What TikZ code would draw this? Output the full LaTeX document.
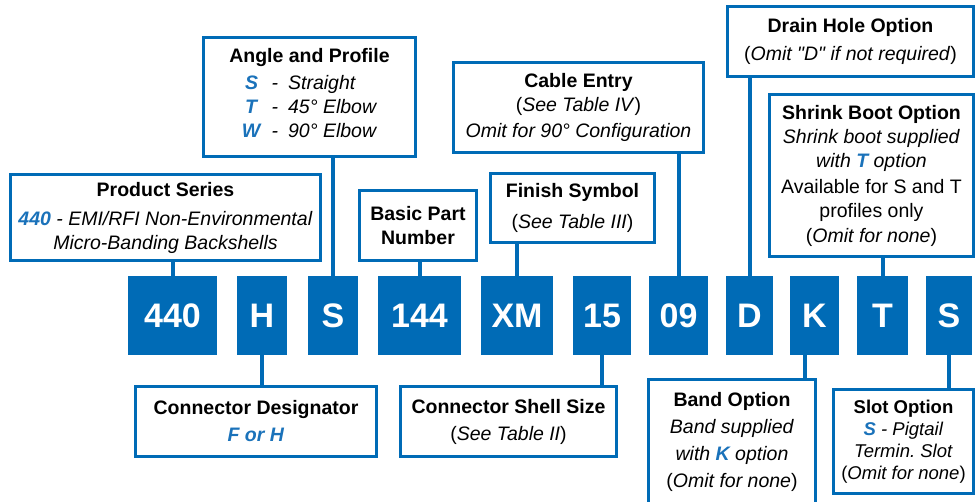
\documentclass[tikz,border=0pt]{standalone}
\usepackage{fontspec}
\setmainfont{Liberation Sans}[Ligatures=TeXOff]
\usetikzlibrary{positioning}
\definecolor{pnBlue}{HTML}{006BB6}
\definecolor{pnText}{HTML}{1A72BA}
\newcommand{\hl}[1]{\textcolor{pnText}{\textbf{\textit{#1}}}}
\newcommand{\ttl}[1]{\textbf{#1}}
\begin{document}
\begin{tikzpicture}[
  x=1pt, y=-1pt,
  font=\fontsize{19.5}{24}\selectfont,
  code/.style={fill=pnBlue, text=white, inner sep=0pt, minimum height=79pt,
    font=\fontsize{34}{34}\selectfont\bfseries},
  desc/.style={draw=pnBlue, fill=white, line width=3pt, align=center, inner sep=0pt},
  link/.style={draw=pnBlue, line width=4pt},
]
\useasboundingbox (0,0) rectangle (980,501);
% part number boxes
\node[code, minimum width=89pt] (c440) at (172.5,315.5) {440};
\node[code, minimum width=50pt] (cH) at (262,315.5) {H};
\node[code, minimum width=50pt] (cS) at (333,315.5) {S};
\node[code, minimum width=83pt] (c144) at (419.5,315.5) {144};
\node[code, minimum width=72pt] (cXM) at (517,315.5) {XM};
\node[code, minimum width=58pt] (c15) at (602,315.5) {15};
\node[code, minimum width=59pt] (c09) at (678.5,315.5) {09};
\node[code, minimum width=47pt] (cD) at (749.5,315.5) {D};
\node[code, minimum width=49pt] (cK) at (814.5,315.5) {K};
\node[code, minimum width=51pt] (cT) at (882.5,315.5) {T};
\node[code, minimum width=46pt] (cS2) at (949,315.5) {S};
% upper descriptions
\node[desc, minimum width=310pt, minimum height=86pt] (ps) at (165.5,217.5)
  {\ttl{Product Series}\\[5pt]\hl{440}\textit{ - EMI/RFI Non-Environmental}\\\textit{Micro-Banding Backshells}};
\node[desc, minimum width=212pt, minimum height=119pt] (ap) at (309.5,97)
  {\ttl{Angle and Profile}\\[3pt]
   \begin{tabular}[t]{@{}c@{\hspace{10pt}}c@{\hspace{10pt}}l@{}}
   \hl{S} & \textit{-} & \textit{Straight}\\
   \hl{T} & \textit{-} & \textit{45° Elbow}\\
   \hl{W} & \textit{-} & \textit{90° Elbow}
   \end{tabular}};
\node[desc, minimum width=117pt, minimum height=70pt] (bpn) at (418,225.5)
  {\ttl{Basic Part}\\\ttl{Number}};
\node[desc, minimum width=164pt, minimum height=69pt] (fs) at (572.5,208)
  {\ttl{Finish Symbol}\\[7pt](\textit{See Table III})};
\node[desc, minimum width=250pt, minimum height=90pt] (ce) at (578.5,107.5)
  {\ttl{Cable Entry}\\(\textit{See Table IV})\\[2pt]\textit{Omit for 90° Configuration}};
\node[desc, minimum width=246pt, minimum height=70pt] (dh) at (850.5,41.5)
  {\ttl{Drain Hole Option}\\[4pt](\textit{Omit "D" if not required})};
\node[desc, minimum width=204pt, minimum height=162pt] (sb) at (871.5,175.5)
  {\ttl{Shrink Boot Option}\\\textit{Shrink boot supplied}\\\textit{with \hl{T} option}\\[2pt]
   Available for S and T\\profiles only\\[1pt](\textit{Omit for none})};
% lower descriptions
\node[desc, minimum width=241pt, minimum height=70pt] (cd) at (256,421.5)
  {\ttl{Connector Designator}\\[3pt]\hl{F or H}};
\node[desc, minimum width=216pt, minimum height=70pt] (css) at (508.5,421.5)
  {\ttl{Connector Shell Size}\\[3pt](\textit{See Table II})};
\node[desc, minimum width=167pt, minimum height=125pt] (bo) at (732,442)
  {\ttl{Band Option}\\[3pt]\textit{Band supplied}\\[3pt]\textit{with \hl{K} option}\\[3pt](\textit{Omit for none})};
\node[desc, minimum width=140pt, minimum height=104pt, font=\fontsize{18.5}{22}\selectfont] (so) at (903.5,441.5)
  {\ttl{Slot Option}\\\hl{S}\textit{ - Pigtail}\\\textit{Termin.\ Slot}\\(\textit{Omit for none})};
% connectors
\draw[link] (c440.north) -- (c440.north |- ps.south);
\draw[link] (cS.north) -- (cS.north |- ap.south);
\draw[link] (c144.north) -- (c144.north |- bpn.south);
\draw[link] (cXM.north) -- (cXM.north |- fs.south);
\draw[link] (c09.north) -- (c09.north |- ce.south);
\draw[link] (cD.north) -- (cD.north |- dh.south);
\draw[link] (cT.north) -- (cT.north |- sb.south);
\draw[link] (cH.south) -- (cH.south |- cd.north);
\draw[link] (c15.south) -- (c15.south |- css.north);
\draw[link] ([xshift=-9.5pt]cK.south) -- ([xshift=-9.5pt]cK.south |- bo.north);
\draw[link] (cS2.south) -- (cS2.south |- so.north);
\end{tikzpicture}
\end{document}
